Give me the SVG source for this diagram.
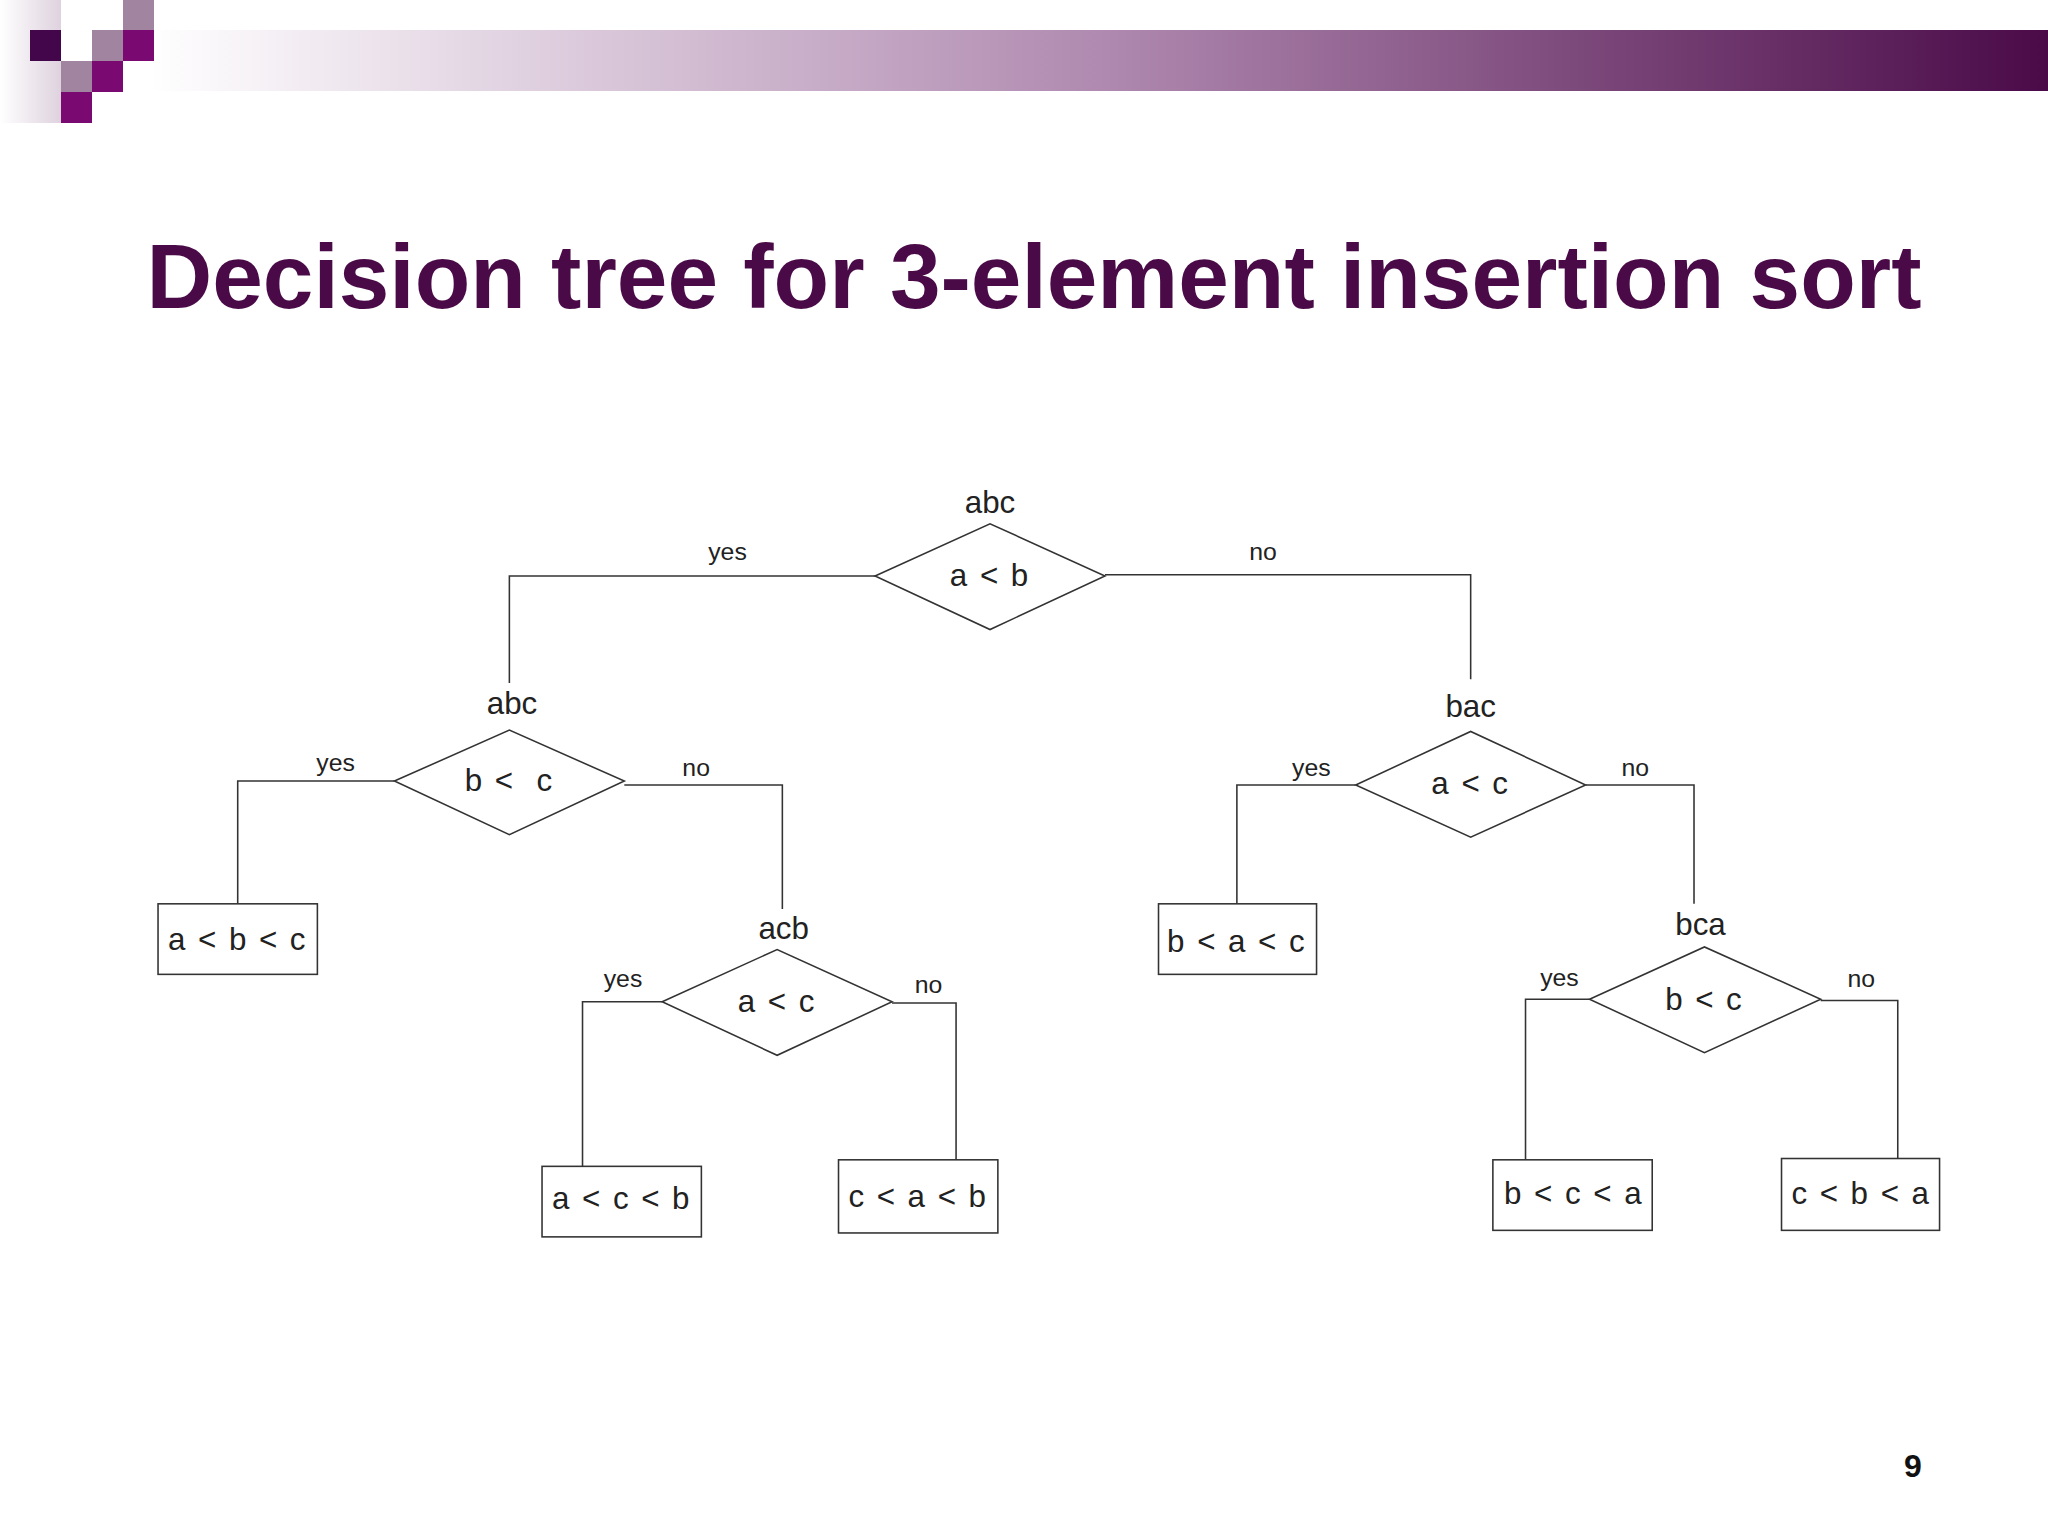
<svg xmlns="http://www.w3.org/2000/svg" width="2048" height="1536" viewBox="0 0 2048 1536">
<defs>
<linearGradient id="bar" x1="0" x2="1" y1="0" y2="0">
<stop offset="0" stop-color="#ffffff"/><stop offset="0.5" stop-color="#b08ab0"/><stop offset="1" stop-color="#4a0a48"/>
</linearGradient>
<linearGradient id="side" x1="0" x2="1"><stop offset="0" stop-color="#fff"/><stop offset="1" stop-color="#c8b4c8"/></linearGradient>
<style>
.l{fill:none;stroke:#333;stroke-width:1.2}
.n{fill:#fff;stroke:#333;stroke-width:1.2}
.t{font-family:"Liberation Sans",Arial,sans-serif;fill:#222;text-anchor:middle}
.big{font-size:24px}
.lf{letter-spacing:1.5px}
.sm{font-size:19px}
</style>
</defs>
<rect width="2048" height="1536" fill="#fff"/>
<rect x="150" y="30" width="1898" height="61" fill="url(#bar)"/>
<rect x="0" y="0" width="61" height="123" fill="url(#side)" opacity="0.6"/>
<rect x="30" y="30" width="31" height="31" fill="#43064a"/>
<rect x="92" y="30" width="31" height="31" fill="#a084a0"/>
<rect x="123" y="0" width="31" height="30" fill="#a084a0"/>
<rect x="123" y="30" width="31" height="31" fill="#7a0a72"/>
<rect x="61" y="61" width="31" height="31" fill="#a084a0"/>
<rect x="92" y="61" width="31" height="31" fill="#7a0a72"/>
<rect x="61" y="92" width="31" height="31" fill="#7a0a72"/>
<text x="1034" y="308" font-family="Liberation Sans,Arial,sans-serif" font-weight="bold" font-size="91" fill="#4a0a48" text-anchor="middle">Decision tree for 3-element insertion sort</text>
<text x="1913" y="1477" font-family="Liberation Sans,Arial,sans-serif" font-weight="bold" font-size="32" fill="#111" text-anchor="middle">9</text>
<g transform="scale(1.3061)">
<g id="connectors">
<polyline class="l" points="670,441 390,441 390,523"/>
<polyline class="l" points="846,440 1126,440 1126,520"/>
<polyline class="l" points="302,598 182,598 182,692"/>
<polyline class="l" points="478,601 599,601 599,696"/>
<polyline class="l" points="1038,601 947,601 947,692"/>
<polyline class="l" points="1214,601 1297,601 1297,692"/>
<polyline class="l" points="507,767 446,767 446,893"/>
<polyline class="l" points="683,768 732,768 732,888"/>
<polyline class="l" points="1217,765 1168,765 1168,888"/>
<polyline class="l" points="1394,766 1453,766 1453,887"/>
</g>
<g class="t sm">
<text x="557" y="429">yes</text><text x="967" y="429">no</text>
<text x="257" y="590">yes</text><text x="533" y="594">no</text>
<text x="1004" y="594">yes</text><text x="1252" y="594">no</text>
<text x="477" y="756">yes</text><text x="711" y="760">no</text>
<text x="1194" y="755">yes</text><text x="1425" y="756">no</text>
</g>
<g id="n1"><polygon class="n" points="670,441 758,401 846,441 758,482"/><text class="t big" x="758" y="393">abc</text><text class="t big lf" x="758" y="449">a &lt; b</text></g>
<g id="n2"><polygon class="n" points="302,598 390,559 478,598 390,639"/><text class="t big" x="392" y="547">abc</text><text class="t big lf" x="390" y="606" xml:space="preserve">b &lt;  c</text></g>
<g id="n3"><polygon class="n" points="1038,601 1126,560 1214,601 1126,641"/><text class="t big" x="1126" y="549">bac</text><text class="t big lf" x="1126" y="608">a &lt; c</text></g>
<g id="n4"><polygon class="n" points="507,767 595,727 683,767 595,808"/><text class="t big" x="600" y="719">acb</text><text class="t big lf" x="595" y="775">a &lt; c</text></g>
<g id="n5"><polygon class="n" points="1217,765 1305,725 1394,765 1305,806"/><text class="t big" x="1302" y="716">bca</text><text class="t big lf" x="1305" y="773">b &lt; c</text></g>
<g id="l1"><rect class="n" x="121" y="692" width="122" height="54"/><text class="t big lf" x="182" y="727">a &lt; b &lt; c</text></g>
<g id="l2"><rect class="n" x="887" y="692" width="121" height="54"/><text class="t big lf" x="947" y="729">b &lt; a &lt; c</text></g>
<g id="l3"><rect class="n" x="415" y="893" width="122" height="54"/><text class="t big lf" x="476" y="926">a &lt; c &lt; b</text></g>
<g id="l4"><rect class="n" x="642" y="888" width="122" height="56"/><text class="t big lf" x="703" y="924">c &lt; a &lt; b</text></g>
<g id="l5"><rect class="n" x="1143" y="888" width="122" height="54"/><text class="t big lf" x="1205" y="922">b &lt; c &lt; a</text></g>
<g id="l6"><rect class="n" x="1364" y="887" width="121" height="55"/><text class="t big lf" x="1425" y="922">c &lt; b &lt; a</text></g>
</g>
</svg>
